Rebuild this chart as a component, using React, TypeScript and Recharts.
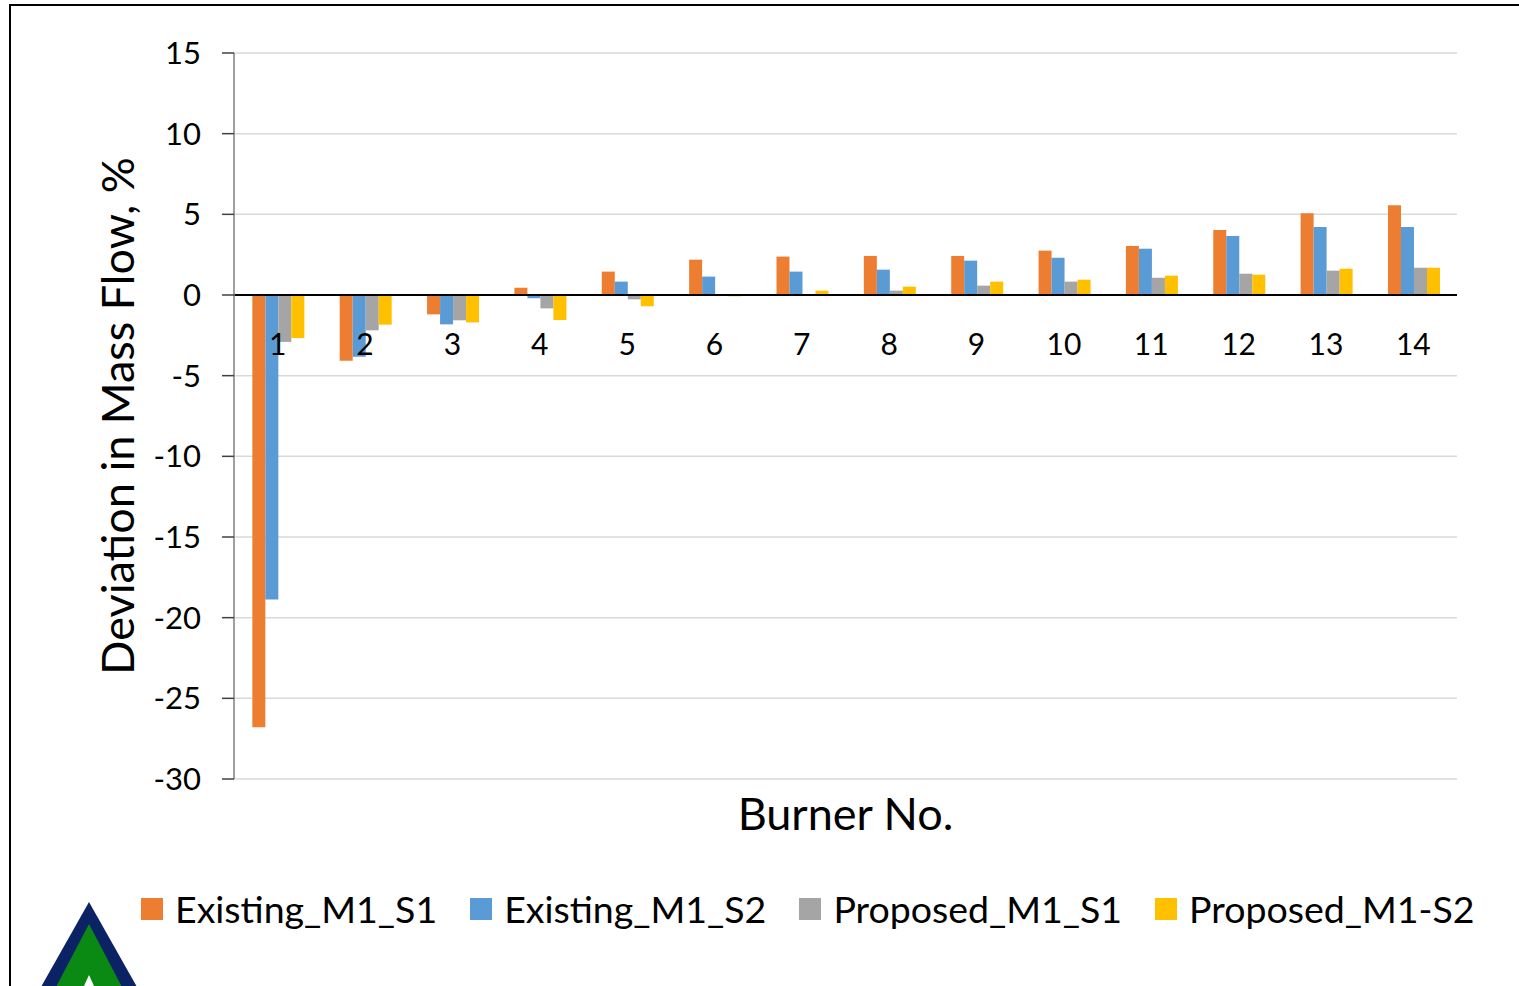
import React from 'react';
import { Bar, BarChart, CartesianGrid, Legend, ReferenceLine, XAxis, YAxis } from 'recharts';

const burners = ['1', '2', '3', '4', '5', '6', '7', '8', '9', '10', '11', '12', '13', '14'];
const existingS1 = [-26.8, -4.07, -1.2, 0.45, 1.45, 2.19, 2.38, 2.42, 2.42, 2.75, 3.04, 4.03, 5.06, 5.56];
const existingS2 = [-18.87, -3.83, -1.82, -0.2, 0.83, 1.14, 1.45, 1.57, 2.13, 2.31, 2.87, 3.66, 4.21, 4.21];
const proposedS1 = [-2.91, -2.19, -1.57, -0.83, -0.27, -0.06, 0.06, 0.27, 0.58, 0.83, 1.07, 1.32, 1.51, 1.69];
const proposedS2 = [-2.67, -1.84, -1.7, -1.55, -0.7, -0.08, 0.27, 0.52, 0.83, 0.95, 1.2, 1.26, 1.63, 1.69];
const yTicks = [-30, -25, -20, -15, -10, -5, 0, 5, 10, 15];

const series = [
  { key: 'existingS1', name: 'Existing_M1_S1', color: '#ED7D31' },
  { key: 'existingS2', name: 'Existing_M1_S2', color: '#5B9BD5' },
  { key: 'proposedS1', name: 'Proposed_M1_S1', color: '#A5A5A5' },
  { key: 'proposedS2', name: 'Proposed_M1-S2', color: '#FFC000' },
];

const data = burners.map((b, i) => ({
  burner: b,
  existingS1: existingS1[i],
  existingS2: existingS2[i],
  proposedS1: proposedS1[i],
  proposedS2: proposedS2[i],
}));

const FONT = 'Lato, "Open Sans", sans-serif';
const W = 1519;
const H = 986;
const PLOT_TOP = 53;
const PLOT_H = 726;
const Y_MIN = -30;
const Y_MAX = 15;
const ZERO_Y = PLOT_TOP + (PLOT_H * Y_MAX) / (Y_MAX - Y_MIN);

const CategoryTick = ({ x, payload }: any) => (
  <text x={x} y={ZERO_Y + 60} textAnchor="middle" fontSize={30} fontFamily={FONT} fill="#000">
    {payload.value}
  </text>
);

const LegendContent = () => (
  <div style={{ display: 'flex', alignItems: 'center', gap: 33, fontFamily: FONT, fontSize: 37.5, color: '#000' }}>
    {series.map((s) => (
      <div key={s.key} style={{ display: 'flex', alignItems: 'center' }}>
        <span style={{ width: 22, height: 22, background: s.color, marginRight: 12, display: 'inline-block' }} />
        <span>{s.name}</span>
      </div>
    ))}
  </div>
);

export default function App() {
  return (
    <div style={{ position: 'absolute', left: 0, top: 0, width: W, height: H, overflow: 'hidden', background: '#fff' }}>
      <div
        style={{
          position: 'absolute',
          left: 9,
          top: 4,
          width: W,
          height: H,
          borderTop: '2px solid #000',
          borderLeft: '2px solid #000',
        }}
      />
      <svg style={{ position: 'absolute', left: 0, top: 0 }} width={200} height={H}>
        <polygon points="89,902 28,1010 150,1010" fill="#0B2265" />
        <polygon points="89,924 44,1010 134,1010" fill="#0A8A12" />
        <polygon points="89,975 73,1010 105,1010" fill="#fff" />
      </svg>
      <BarChart
        width={W}
        height={H}
        data={data}
        margin={{ top: PLOT_TOP, right: 62, left: 90, bottom: 147 }}
        barCategoryGap="21%"
        barGap={0}
        style={{ position: 'absolute', left: 0, top: 0 }}
      >
        <CartesianGrid vertical={false} stroke="#D9D9D9" strokeWidth={1.5} />
        <YAxis
          width={144}
          domain={[Y_MIN, Y_MAX]}
          ticks={yTicks}
          interval={0}
          tickSize={12}
          tickMargin={21}
          axisLine={{ stroke: '#7F7F7F', strokeWidth: 1.5 }}
          tickLine={{ stroke: '#404040', strokeWidth: 1.5 }}
          tick={{ fontSize: 31, fontFamily: FONT, fill: '#000' }}
          label={{
            content: () => (
              <text
                x={117}
                y={PLOT_TOP + 363}
                transform={`rotate(-90 117 ${PLOT_TOP + 363})`}
                textAnchor="middle"
                dominantBaseline="central"
                fontSize={45}
                fontFamily={FONT}
                fill="#000"
              >
                Deviation in Mass Flow, %
              </text>
            ),
          }}
        />
        {series.map((s) => (
          <Bar key={s.key} dataKey={s.key} name={s.name} fill={s.color} isAnimationActive={false} />
        ))}
        <ReferenceLine y={0} stroke="#000" strokeWidth={2} />
        <XAxis
          dataKey="burner"
          height={60}
          axisLine={false}
          tickLine={false}
          interval={0}
          tick={<CategoryTick />}
          label={{
            content: ({ viewBox }: any) => (
              <text
                x={viewBox.x + viewBox.width / 2}
                y={viewBox.y + 51}
                textAnchor="middle"
                fontSize={45}
                fontFamily={FONT}
                fill="#000"
              >
                Burner No.
              </text>
            ),
          }}
        />
        <Legend
          verticalAlign="middle"
          align="center"
          content={<LegendContent />}
          wrapperStyle={{ top: 886, left: 141, width: 'auto' }}
        />
      </BarChart>
    </div>
  );
}
